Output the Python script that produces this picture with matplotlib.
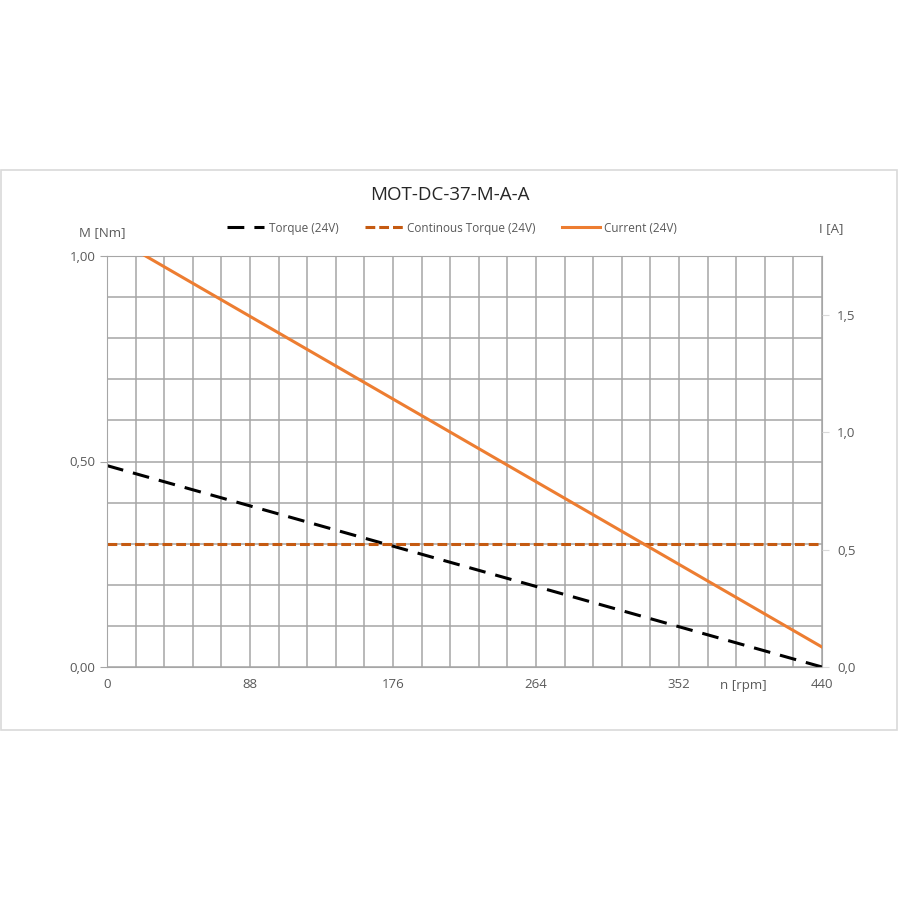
import numpy as np
import matplotlib
matplotlib.use('Agg')
import matplotlib.pyplot as plt
from matplotlib.patches import Rectangle

plt.rcParams['font.family'] = ['Open Sans', 'DejaVu Sans']

# data
rpm = [0, 440]
torque = [0.49, 0.0]            # M [Nm], 24V
cont_torque = [0.30, 0.30]      # M [Nm]
current = [1.845, 0.085]        # I [A]

x_ticks = [0, 88, 176, 264, 352, 440]
m_ticks = [0.0, 0.5, 1.0]
m_labels = ['0,00', '0,50', '1,00']
i_ticks = [0.0, 0.5, 1.0, 1.5]
i_labels = ['0,0', '0,5', '1,0', '1,5']

txt = '#595959'
grid = '#a6a6a6'

fig = plt.figure(figsize=(9, 9), dpi=100)
# chart frame
fig.patches.append(Rectangle((0.001, 1 - 730/900), 0.996, 560/900,
                             transform=fig.transFigure, fill=False,
                             edgecolor='#d9d9d9', lw=1.2))

ax = fig.add_axes([107/900, 1 - 667/900, 715/900, 411/900])
ax.set_xlim(0, 440)
ax.set_ylim(0, 1.0)

ax.set_xticks(np.arange(0, 440.1, 17.6), minor=True)
ax.set_yticks(np.arange(0, 1.01, 0.1), minor=True)
ax.set_xticks(x_ticks)
ax.set_xticklabels([str(v) for v in x_ticks])
ax.set_yticks(m_ticks)
ax.set_yticklabels(m_labels)
ax.grid(which='both', color=grid, lw=1.1)
ax.set_axisbelow(True)
ax.tick_params(axis='x', which='both', length=0, colors=txt, labelsize=9.5, pad=8)
ax.tick_params(axis='y', which='major', length=5, color=grid, colors=txt, labelsize=9.5)
ax.tick_params(axis='y', which='minor', length=0)
for sp in ax.spines.values():
    sp.set_color(grid)

l1, = ax.plot(rpm, torque, color='black', ls=(0, (5.5, 3.3)), lw=2.2, label='Torque (24V)')
l2, = ax.plot(rpm, cont_torque, color='#c55a11', ls=(0, (3.2, 1.3)), lw=2.2,
              label='Continous Torque (24V)')

ax2 = ax.twinx()
ax2.set_ylim(0, 1.75)
ax2.set_yticks(i_ticks)
ax2.set_yticklabels(i_labels)
ax2.tick_params(axis='y', length=5, color='#d9d9d9', colors=txt, labelsize=9.5, pad=6)
for sp in ax2.spines.values():
    sp.set_visible(False)
l3, = ax2.plot(rpm, current, color='#ed7d31', lw=2.2, label='Current (24V)')
ax2.set_xlim(0, 440)

fig.text(450/900, 1 - 195/900, 'MOT-DC-37-M-A-A', ha='center', va='center',
         fontsize=13.5, color='#262626')
fig.text(102/900, 1 - 233/900, 'M [Nm]', ha='center', va='center', fontsize=9.5, color=txt)
fig.text(831/900, 1 - 229/900, 'I [A]', ha='center', va='center', fontsize=9.5, color=txt)
fig.text(743/900, 1 - 685/900, 'n [rpm]', ha='center', va='center', fontsize=9.5, color=txt)

fig.legend(handles=[l1, l2, l3], loc='center', bbox_to_anchor=(452/900, 1 - 228/900),
           ncol=3, frameon=False, fontsize=8.5, labelcolor=txt,
           handlelength=3.2, columnspacing=2.2, handletextpad=0.4)

fig.savefig('out.png', dpi=100, facecolor='white')
